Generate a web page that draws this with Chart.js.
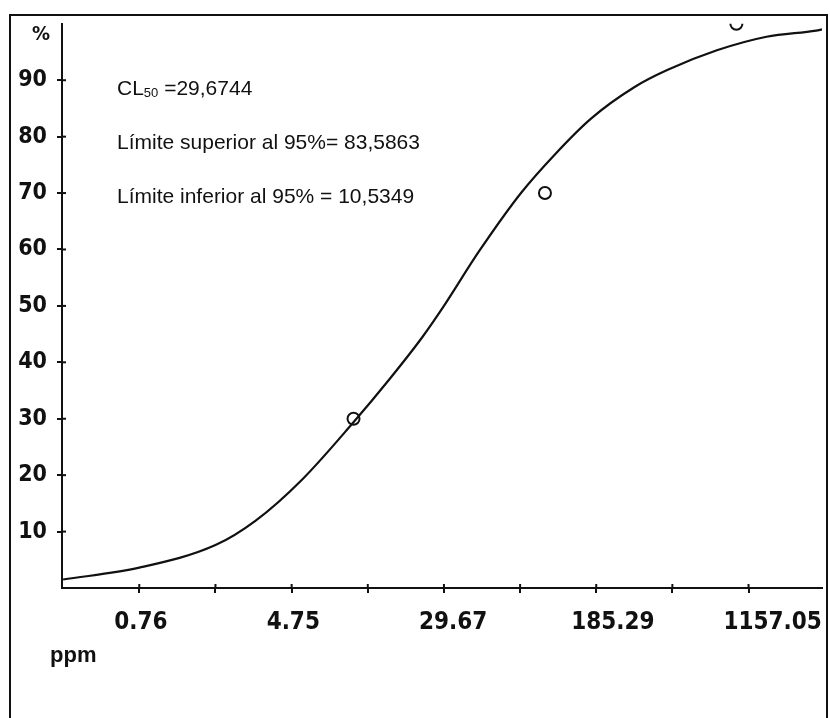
<!DOCTYPE html>
<html lang="es">
<head>
<meta charset="utf-8">
<title>CL50 - curva probit</title>
<script src="https://cdn.jsdelivr.net/npm/chart.js@4.4.1/dist/chart.umd.min.js"></script>
<style>
  html, body { margin: 0; padding: 0; background: #fff; }
  body { width: 830px; height: 718px; position: relative; overflow: hidden; }
  #marco {
    position: absolute; left: 9px; top: 14px; width: 815px; height: 760px;
    border: 2px solid #111; border-bottom: none;
  }
  #grafico { position: absolute; left: 0; top: 0; }
  .nota {
    position: absolute; left: 117px; font-family: 'Liberation Sans', Arial, sans-serif;
    font-size: 21px; color: #111; white-space: nowrap; line-height: 24px;
  }
  .nota sub { font-size: 13px; vertical-align: -2px; }
  #pct {
    position: absolute; left: 32px; top: 21px; font-family: 'DejaVu Sans Condensed', sans-serif;
    font-weight: bold; font-size: 20px; color: #111;
  }
  #ppm {
    position: absolute; left: 50px; top: 642px; font-family: 'Liberation Sans', Arial, sans-serif;
    font-weight: bold; font-size: 22px; color: #111;
  }
</style>
</head>
<body>
<div id="marco"></div>
<canvas id="grafico" width="830" height="718"></canvas>
<div class="nota" style="top:76px">CL<sub>50</sub> =29,6744</div>
<div class="nota" style="top:130px">Límite superior al 95%= 83,5863</div>
<div class="nota" style="top:184px">Límite inferior al 95% = 10,5349</div>
<div id="pct">%</div>
<div id="ppm">ppm</div>
<script>
'use strict';

// ─── Datos ───────────────────────────────────────────────────────────────────
// curva probit ajustada (ppm, % mortalidad)
const curvaPpm = [0.304, 0.76, 1.90, 3.07, 5.38, 9.89, 15.4, 22.8, 29.67,
                  45.1, 75.3, 113, 174, 294, 435, 791, 1437, 2611, 2800];
const curvaPct = [1.5, 3.6, 7.6, 11.9, 19.2, 29.2, 37.0, 44.4, 50.0,
                  59.6, 70.1, 76.9, 83.2, 88.8, 91.8, 95.3, 97.7, 98.8, 99.0];

// valores observados
const obsPpm = [10, 100, 1000];
const obsPct = [30, 70, 100];

// ticks del eje x (log) y sus etiquetas
const xTicks      = [0.76, 1.90, 4.75, 11.87, 29.67, 74.15, 185.29, 463.0, 1157.05];
const xTickLabels = ['0.76', '', '4.75', '', '29.67', '', '185.29', '', '1157.05'];
const yTicks      = [10, 20, 30, 40, 50, 60, 70, 80, 90];

const FUENTE_EJES = "'DejaVu Sans Condensed', sans-serif";

// marcas de tick hacia dentro (en el original cruzan el eje)
const ticksInternos = {
    id: 'ticksInternos',
    afterDraw(chart) {
        const { ctx, chartArea, scales } = chart;
        ctx.save();
        ctx.strokeStyle = '#111';
        ctx.lineWidth = 2;
        scales.x.ticks.forEach(function (t) {
            const px = scales.x.getPixelForValue(t.value);
            ctx.beginPath();
            ctx.moveTo(px, chartArea.bottom);
            ctx.lineTo(px, chartArea.bottom - 4);
            ctx.stroke();
        });
        scales.y.ticks.forEach(function (t) {
            const py = scales.y.getPixelForValue(t.value);
            ctx.beginPath();
            ctx.moveTo(chartArea.left, py);
            ctx.lineTo(chartArea.left + 4, py);
            ctx.stroke();
        });
        ctx.restore();
    },
};

new Chart(document.getElementById('grafico'), {
    type: 'line',
    data: {
        datasets: [
            {
                data: curvaPpm.map(function (x, i) { return { x: x, y: curvaPct[i] }; }),
                borderColor: '#111',
                borderWidth: 2.2,
                pointRadius: 0,
                tension: 0.4,
                cubicInterpolationMode: 'monotone',
                fill: false,
            },
            {
                data: obsPpm.map(function (x, i) { return { x: x, y: obsPct[i] }; }),
                showLine: false,
                pointRadius: 6,
                pointBorderWidth: 2,
                pointBorderColor: '#111',
                pointBackgroundColor: '#fff',
            },
        ],
    },
    options: {
        responsive: false,
        animation: false,
        layout: { padding: { top: 16, left: 0, right: 4, bottom: 0 } },
        plugins: { legend: { display: false }, tooltip: { enabled: false } },
        scales: {
            x: {
                type: 'logarithmic',
                min: 0.304,
                max: 2800,
                afterBuildTicks: function (s) {
                    s.ticks = xTicks.map(function (v) { return { value: v }; });
                },
                afterFit: function (s) {
                    s.height = 130;
                    s.paddingLeft = 0;
                    s.paddingRight = 0;
                },
                grid: { drawOnChartArea: false, tickLength: 5, color: '#111', lineWidth: 2 },
                border: { color: '#111', width: 2 },
                ticks: {
                    autoSkip: false,
                    maxRotation: 0,
                    align: 'start',
                    labelOffset: -25,
                    padding: 15,
                    color: '#111',
                    font: { family: FUENTE_EJES, weight: 'bold', size: 24 },
                    callback: function (val, i) { return xTickLabels[i]; },
                },
            },
            y: {
                min: 0,
                max: 100,
                afterBuildTicks: function (s) {
                    s.ticks = yTicks.map(function (v) { return { value: v }; });
                },
                afterFit: function (s) { s.width = 62; },
                grid: { drawOnChartArea: false, tickLength: 5, color: '#111', lineWidth: 2 },
                border: { color: '#111', width: 2 },
                ticks: {
                    padding: 10,
                    color: '#111',
                    font: { family: FUENTE_EJES, weight: 'bold', size: 23 },
                },
            },
        },
    },
    plugins: [ticksInternos],
});
</script>
</body>
</html>
